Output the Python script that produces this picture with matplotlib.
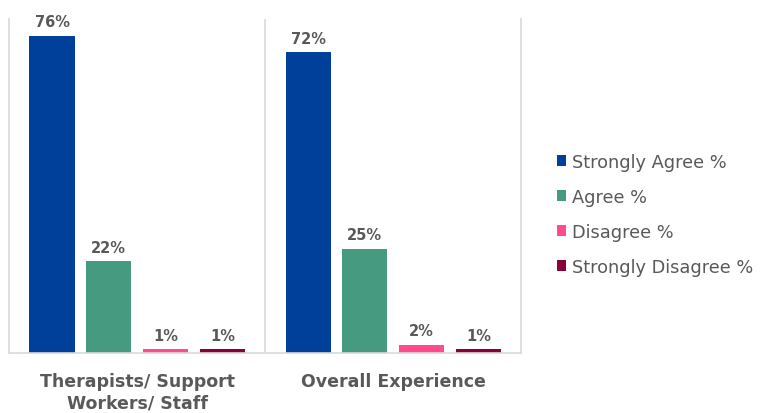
import numpy as np
import matplotlib.pyplot as plt

plt.rcParams['font.family'] = ['DejaVu Sans']

categories = ['Therapists/ Support\nWorkers/ Staff', 'Overall Experience']
series = ['Strongly Agree %', 'Agree %', 'Disagree %', 'Strongly Disagree %']
values = [
    [76, 72],  # Strongly Agree
    [22, 25],  # Agree
    [1, 2],    # Disagree
    [1, 1],    # Strongly Disagree
]
colors = ['#003f9a', '#459a7f', '#ff4a8d', '#8b0038']

fig = plt.figure(figsize=(7.7, 4.14), dpi=100)
ax = fig.add_axes([0.0117, 0.145, 0.6650, 0.807])

x = np.arange(len(categories))
width = 0.176
offsets = [-0.332, -0.11, 0.112, 0.334]
for vals, name, col, off in zip(values, series, colors, offsets):
    bars = ax.bar(x + off, vals, width, color=col, label=name)
    for b, v in zip(bars, vals):
        ax.text(b.get_x() + b.get_width() / 2, v + 1.5, f'{v}%', ha='center', va='bottom',
                fontsize=10.5, fontweight='bold', color='#595959')

ax.set_xlim(-0.5, 1.5)
ax.set_ylim(0, 80)
ax.set_yticks([])
ax.set_xticks(x)
ax.set_xticklabels(categories, fontsize=12.5, fontweight='bold', color='#595959',
                   linespacing=1.2)
ax.tick_params(axis='x', length=0, pad=14)
ax.axvline(0.5, color='#d9d9d9', lw=1.2)
ax.spines['top'].set_visible(False)
for s in ['left', 'right', 'bottom']:
    ax.spines[s].set_color('#d9d9d9')
    ax.spines[s].set_linewidth(1.2)

leg = fig.legend(loc='center left', bbox_to_anchor=(0.702, 0.48), frameon=False,
                 fontsize=12.8, handlelength=0.55, handleheight=0.55, handletextpad=0.3,
                 labelspacing=0.95, labelcolor='#595959')

fig.savefig('out.png', dpi=100)
